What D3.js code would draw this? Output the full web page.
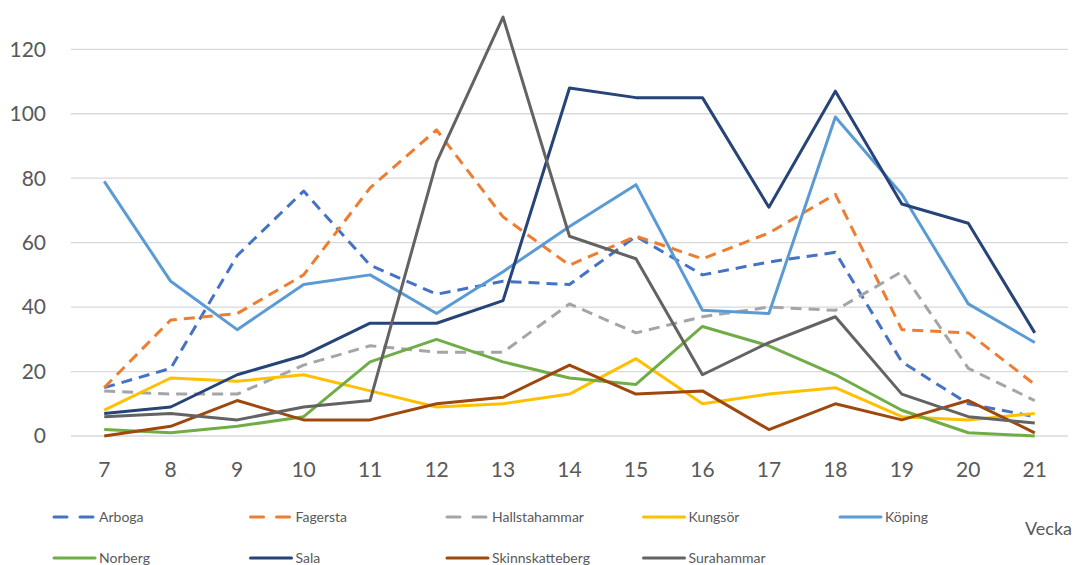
<!DOCTYPE html>
<html>
<head>
<meta charset="utf-8">
<script src="https://cdn.jsdelivr.net/npm/d3@7"></script>
<style>
  body { margin: 0; background: #fff; }
  text { font-family: Lato, "Open Sans", sans-serif; fill: #595959; }
</style>
</head>
<body>
<div class="wrapper"></div>
<script>
const weeks = [7, 8, 9, 10, 11, 12, 13, 14, 15, 16, 17, 18, 19, 20, 21];
const yTicks = [0, 20, 40, 60, 80, 100, 120];

const arboga = [15, 21, 56, 76, 53, 44, 48, 47, 62, 50, 54, 57, 23, 10, 6];
const fagersta = [15, 36, 38, 50, 77, 95, 68, 53, 62, 55, 63, 75, 33, 32, 16];
const hallstahammar = [14, 13, 13, 22, 28, 26, 26, 41, 32, 37, 40, 39, 51, 21, 11];
const kungsor = [8, 18, 17, 19, 14, 9, 10, 13, 24, 10, 13, 15, 6, 5, 7];
const koping = [79, 48, 33, 47, 50, 38, 51, 65, 78, 39, 38, 99, 75, 41, 29];
const norberg = [2, 1, 3, 6, 23, 30, 23, 18, 16, 34, 28, 19, 8, 1, 0];
const sala = [7, 9, 19, 25, 35, 35, 42, 108, 105, 105, 71, 107, 72, 66, 32];
const skinnskatteberg = [0, 3, 11, 5, 5, 10, 12, 22, 13, 14, 2, 10, 5, 11, 1];
const surahammar = [6, 7, 5, 9, 11, 85, 130, 62, 55, 19, 29, 37, 13, 6, 4];

const series = [
  { name: "Arboga", values: arboga, color: "#4472C4", dashed: true },
  { name: "Fagersta", values: fagersta, color: "#ED7D31", dashed: true },
  { name: "Hallstahammar", values: hallstahammar, color: "#A5A5A5", dashed: true },
  { name: "Kungsör", values: kungsor, color: "#FFC000", dashed: false },
  { name: "Köping", values: koping, color: "#5B9BD5", dashed: false },
  { name: "Norberg", values: norberg, color: "#70AD47", dashed: false },
  { name: "Sala", values: sala, color: "#264478", dashed: false },
  { name: "Skinnskatteberg", values: skinnskatteberg, color: "#9E480E", dashed: false },
  { name: "Surahammar", values: surahammar, color: "#636363", dashed: false }
];

const svg = d3.select(".wrapper")
  .append("svg")
  .attr("width", 1075)
  .attr("height", 565);

const x = d3.scaleBand()
  .domain(weeks)
  .range([71, 1068]);

const y = d3.scaleLinear()
  .domain([0, 120])
  .range([436, 49.3]);

// gridlines
svg.append("g")
  .selectAll("line")
  .data(yTicks)
  .enter()
  .append("line")
  .attr("x1", 71)
  .attr("x2", 1068)
  .attr("y1", d => y(d))
  .attr("y2", d => y(d))
  .attr("stroke", "#D9D9D9")
  .attr("stroke-width", 1.3);

// y labels
svg.append("g")
  .selectAll("text")
  .data(yTicks)
  .enter()
  .append("text")
  .attr("x", 46)
  .attr("y", d => y(d))
  .attr("dy", "0.35em")
  .attr("text-anchor", "end")
  .style("font-size", "21px")
  .text(d => d);

// x labels
svg.append("g")
  .selectAll("text")
  .data(weeks)
  .enter()
  .append("text")
  .attr("x", d => x(d) + x.bandwidth() / 2)
  .attr("y", 477)
  .attr("text-anchor", "middle")
  .style("font-size", "21px")
  .text(d => d);

const line = d3.line()
  .x((d, i) => x(weeks[i]) + x.bandwidth() / 2)
  .y(d => y(d));

svg.append("g")
  .selectAll("path")
  .data(series)
  .enter()
  .append("path")
  .attr("d", d => line(d.values))
  .attr("fill", "none")
  .attr("stroke", d => d.color)
  .attr("stroke-width", 3)
  .attr("stroke-linejoin", "round")
  .attr("stroke-dasharray", d => d.dashed ? "11,7" : null);

// legend
const legend = svg.append("g")
  .selectAll("g")
  .data(series)
  .enter()
  .append("g")
  .attr("transform", (d, i) => "translate(" + (54 + (i % 5) * 196.5) + "," + (i < 5 ? 517 : 558) + ")");

legend.append("line")
  .attr("x1", 0)
  .attr("x2", 41)
  .attr("y1", 0)
  .attr("y2", 0)
  .attr("stroke", d => d.color)
  .attr("stroke-width", 3)
  .attr("stroke-linecap", "round")
  .attr("stroke-dasharray", d => d.dashed ? "13,13" : null);

legend.append("text")
  .attr("x", 45)
  .attr("y", 0)
  .attr("dy", "0.35em")
  .style("font-size", "14px")
  .text(d => d.name);

svg.append("text")
  .attr("x", 1072)
  .attr("y", 535)
  .attr("text-anchor", "end")
  .style("font-size", "18px")
  .text("Vecka");
</script>
</body>
</html>
